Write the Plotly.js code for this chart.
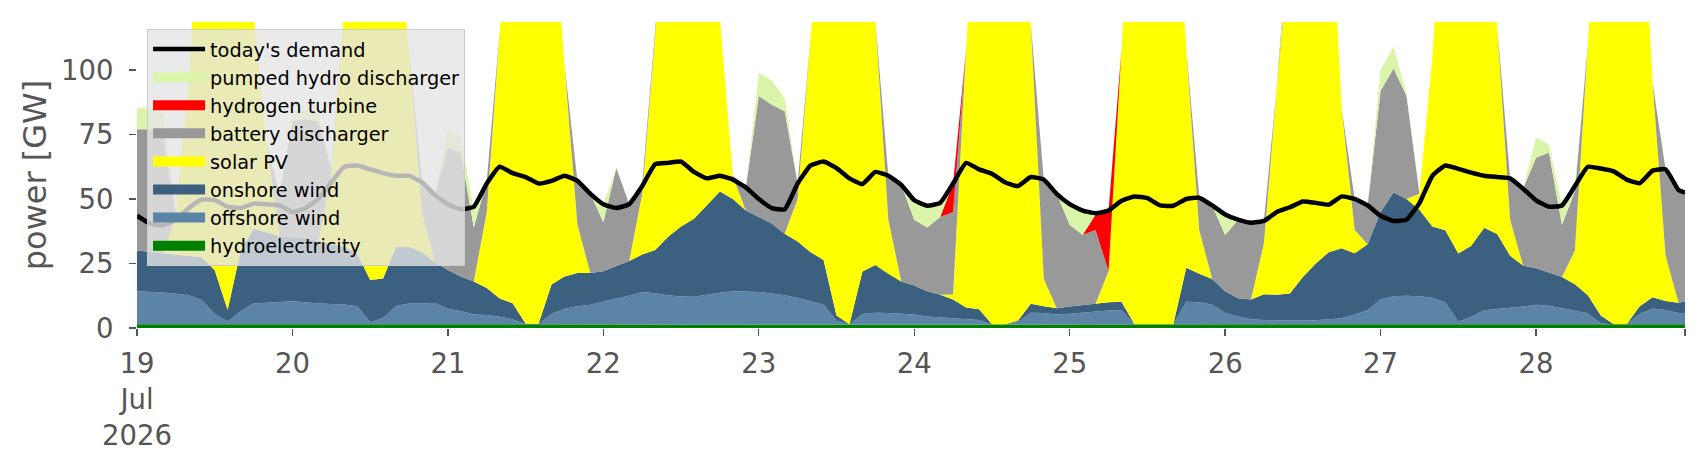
<!DOCTYPE html>
<html><head><meta charset="utf-8">
<script src="https://cdn.plot.ly/plotly-3.0.1.min.js"></script>
<style>html,body{margin:0;padding:0;background:#fff;}#chart{width:1706px;height:460px;}</style>
</head><body><div id="chart"></div>
<script>
// sample times: every 2 hours from 19 Jul 2026 00:00, plus the final hour (28 Jul 23:00)
const sampleHours = [];
for (let h = 0; h <= 238; h += 2) sampleHours.push(h);
sampleHours.push(239);
function stamp(h) {
  const d = 19 + Math.floor(h / 24), hh = h % 24;
  return '2026-07-' + String(d).padStart(2, '0') + ' ' + String(hh).padStart(2, '0') + ':00';
}
const times = sampleHours.map(stamp);

const dayTicks = ['2026-07-19','2026-07-20','2026-07-21','2026-07-22','2026-07-23','2026-07-24','2026-07-25','2026-07-26','2026-07-27','2026-07-28','2026-07-28 23:00'];
const dayTickLabels = ['19<br>Jul<br>2026','20','21','22','23','24','25','26','27','28',''];

// GW, one row per day (00,02,...,22h), last value = 28 Jul 23:00
const hydroelectricity = [
1.5,1.5,1.5,1.5,1.4,1.4,1.4,1.5,1.5,1.5,1.6,1.6,
1.6,1.5,1.5,1.5,1.4,1.4,1.4,1.4,1.5,1.5,1.5,1.5,
1.5,1.5,1.5,1.5,1.4,1.4,1.4,1.4,1.4,1.5,1.5,1.5,
1.5,1.5,1.5,1.5,1.4,1.4,1.3,1.3,1.4,1.4,1.5,1.5,
1.5,1.5,1.5,1.5,1.4,1.4,1.3,1.3,1.4,1.4,1.5,1.5,
1.5,1.5,1.5,1.5,1.4,1.4,1.3,1.3,1.3,1.4,1.5,1.5,
1.5,1.5,1.5,1.5,1.4,1.3,1.3,1.3,1.3,1.4,1.5,1.5,
1.5,1.5,1.5,1.5,1.4,1.4,1.3,1.3,1.4,1.4,1.5,1.5,
1.5,1.5,1.5,1.5,1.4,1.4,1.4,1.4,1.4,1.4,1.5,1.5,
1.5,1.5,1.5,1.5,1.4,1.3,1.3,1.3,1.4,1.4,1.5,1.5,
1.5];
const offshoreWind = [
12.7,12.5,12.3,11.8,11.3,9.5,4.0,1.0,5.0,8.0,8.2,8.5,
8.8,8.5,8.0,7.8,7.7,7.0,0.8,2.5,7.0,8.0,8.2,8.2,
6.0,5.0,3.7,3.5,3.0,2.0,0.1,0.1,4.0,6.0,6.9,7.5,
8.8,10.0,11.0,12.5,12.1,11.3,10.9,10.8,11.5,12.3,12.7,12.7,
12.5,11.9,11.2,10.1,9.0,7.7,1.5,0.1,4.0,4.5,4.3,4.0,
3.7,3.0,2.7,2.4,2.0,1.7,0.1,0.1,1.0,4.5,4.3,3.7,
4.0,4.5,5.0,5.3,5.5,0.1,0.1,0.1,0.1,8.8,8.5,7.5,
4.3,3.0,1.9,1.6,1.5,1.5,1.6,1.7,2.0,2.4,3.7,5.5,
9.5,10.8,11.0,10.8,10.3,8.5,1.0,3.0,5.5,6.0,6.2,6.8,
7.5,7.1,6.2,5.3,4.3,0.5,0.1,0.1,4.0,6.2,5.5,4.3,
4.3];
const onshoreWind = [
15.8,15.5,15.2,15.2,15.2,16.5,17.0,4.5,23.5,29.0,27.3,25.5,
24.7,25.0,24.0,23.2,22.3,20.5,16.4,15.3,23.0,22.0,19.8,15.8,
15.0,13.5,12.8,10.5,7.0,6.2,0.1,0.1,11.5,12.5,12.9,12.3,
11.7,12.5,13.5,14.5,16.7,22.7,27.1,30.2,34.5,39.2,35.8,31.3,
29.0,27.1,23.8,21.9,19.0,17.3,2.0,0.1,16.5,18.5,15.2,12.5,
11.3,9.7,8.7,7.1,4.5,4.2,0.1,0.1,0.5,3.5,2.6,2.5,
2.8,2.8,2.9,3.2,3.3,0.1,0.1,0.1,0.1,13.2,11.0,10.0,
8.4,7.0,7.6,10.0,10.0,10.5,16.9,22.0,26.0,27.1,23.8,25.5,
34.0,40.2,37.5,33.5,27.6,28.0,26.5,27.5,32.0,29.0,20.3,15.9,
14.2,12.9,12.1,10.2,7.0,3.0,0.1,0.1,3.0,4.3,3.5,4.0,
4.5];
const solarPV = [
0,0,0,15.0,69.0,147.5,182.5,203.0,155.0,83.5,35.0,0,
0,0,0,26.5,93.5,151.0,191.3,180.7,128.5,76.5,15.5,0,
0,0,0,29.5,103.5,170.3,208.3,206.0,153.0,82.0,18.7,0,
0,0,0,23.5,84.7,139.5,170.5,172.5,142.5,67.0,8.7,0,
0,0,0,16.5,83.5,153.5,195.0,203.3,163.0,94.5,21.0,0,
0,0,0,2.0,100.0,182.6,213.3,218.3,197.0,108.5,10.6,0,
0,0,0,12.0,97.7,198.3,213.3,210.0,188.3,84.5,17.0,0,
0,0,0,19.9,81.0,146.5,180.0,184.8,150.5,54.0,9.0,0,
0,0,0,6.2,65.6,152.0,186.0,188.0,161.0,80.5,14.0,0,
0,0,0,13.0,97.2,185.0,213.3,210.0,181.5,83.0,17.5,0,
0];
const batteryDischarger = [
47.0,47.5,47.0,1.0,0,0,0,0,0,0,0,16.5,
45.0,46.0,46.5,3.0,0,0,0,0,0,0,12.0,26.5,
47.5,48.0,21.0,12.0,0,0,0,0,0,0,17.0,30.7,
19.0,38.0,22.0,4.0,0,0,0,0,0,0,0.3,9.0,
47.0,46.0,47.5,6.0,0,0,0,0,0,0,17.0,37.5,
25.5,24.8,30.1,32.0,0,0,0,0,0,0,38.5,44.3,
31.7,27.2,28.6,0,0,0,0,0,0,0,13.0,28.5,
21.8,30.5,29.8,9.0,0,0,0,0,0,0,12.0,15.0,
47.0,48.1,40.0,0,0,0,0,0,0,0,16.0,29.8,
42.8,46.5,20.2,23.0,0,0,0,0,0,0,33.5,43.7,
42.0];
const hydrogenTurbine = [
0,0,0,0,0,0,0,0,0,0,0,0,
0,0,0,0,0,0,0,0,0,0,0,0,
0,0,0,0,0,0,0,0,0,0,0,0,
0,0,0,0,0,0,0,0,0,0,0,0,
0,0,0,0,0,0,0,0,0,0,0,0,
0,0,0,11.0,0,0,0,0,0,0,0,0,
0,0,6.0,23.5,0,0,0,0,0,0,0,0,
0,0,0,0,0,0,0,0,0,0,0,0,
0,0,0,0,0,0,0,0,0,0,0,0,
0,0,0,0,0,0,0,0,0,0,0,0,
0];
const pumpedHydroDischarger = [
8.5,8.0,7.0,1.0,0,0,0,0,0,0,0,1.0,
4.0,3.5,3.0,0,0,0,0,0,0,0,0,0,
7.0,6.0,7.0,0,0,0,0,0,0,0,0,0,
7.0,0,0,0,0,0,0,0,0,0,0,0,
9.0,9.5,5.0,0,0,0,0,0,0,0,0,0,
7.5,8.4,5.5,0,0,0,0,0,0,0,0,0,
8.0,9.5,0.5,0,0,0,0,0,0,0,0,0,
8.0,0,0,0,0,0,0,0,0,0,0,0,
8.0,8.4,1.0,0,0,0,0,0,0,0,0,0,
8.0,3.0,7.5,2.0,0,0,0,0,0,0,0,0,
0];
const todaysDemand = [
43.5,40.5,39.8,42.0,46.5,49.8,49.5,47.0,46.5,48.2,48.0,47.5,
45.0,46.5,50.0,56.5,62.5,63.0,61.5,60.0,59.0,59.0,56.5,51.5,
48.0,46.0,47.0,56.0,62.5,60.0,58.5,56.0,57.0,59.0,57.0,52.0,
48.0,46.5,48.0,55.0,63.5,64.0,64.5,60.5,58.0,59.0,57.5,54.5,
50.0,46.5,46.0,56.0,63.0,64.5,62.0,58.0,55.8,60.5,59.0,55.5,
49.5,47.4,48.5,56.0,64.0,61.5,59.8,56.5,55.0,58.5,57.5,52.0,
48.0,45.5,44.5,45.5,49.3,51.0,50.3,47.5,47.4,50.0,50.5,47.5,
44.0,42.0,40.8,41.5,45.0,46.8,49.0,48.5,47.8,51.0,50.0,47.5,
43.5,41.5,42.0,48.4,59.0,63.0,61.7,60.2,59.0,58.5,58.0,54.0,
49.5,47.0,47.5,55.0,62.5,61.8,60.7,57.5,56.1,61.0,61.5,53.5,
52.5];

const stackSeries = [
  {name: 'hydroelectricity', y: hydroelectricity, color: '#008000'},
  {name: 'offshore wind', y: offshoreWind, color: '#5c84a6'},
  {name: 'onshore wind', y: onshoreWind, color: '#3b6080'},
  {name: 'solar PV', y: solarPV, color: '#ffff00'},
  {name: 'battery discharger', y: batteryDischarger, color: '#999999'},
  {name: 'hydrogen turbine', y: hydrogenTurbine, color: '#ff0000'},
  {name: 'pumped hydro discharger', y: pumpedHydroDischarger, color: '#daf5aa'}
];

// stacked areas (legend entries drawn by patch-like legend items below)
const traces = stackSeries.map(s => ({
  type: 'scatter', mode: 'lines', x: times, y: s.y, name: s.name,
  stackgroup: 'supply', legendgroup: s.name, showlegend: false,
  line: {width: 0, color: s.color}, fillcolor: s.color, hoverinfo: 'skip'
}));
// legend items with wide colour patches, same order as the stack
stackSeries.forEach(s => traces.push({
  type: 'scatter', mode: 'lines', x: [null], y: [null], name: s.name,
  legendgroup: s.name, showlegend: true,
  line: {width: 10, color: s.color}, hoverinfo: 'skip'
}));
traces.push({
  type: 'scatter', mode: 'lines', x: times, y: todaysDemand, name: "today's demand",
  line: {color: '#000000', width: 4.5, shape: 'spline', smoothing: 0.4}, hoverinfo: 'skip'
});

const layout = {
  width: 1706, height: 460,
  margin: {l: 137, r: 21, t: 22, b: 132, pad: 0},
  paper_bgcolor: '#ffffff', plot_bgcolor: '#ffffff',
  font: {family: 'DejaVu Sans', color: '#555555'},
  showlegend: true,
  legend: {
    x: 0.0065, y: 0.977, xanchor: 'left', yanchor: 'top',
    bgcolor: 'rgba(229,229,229,0.8)', bordercolor: '#cccccc', borderwidth: 1,
    font: {size: 19.3, color: '#000000', family: 'DejaVu Sans'},
    traceorder: 'reversed', itemwidth: 52
  },
  xaxis: {
    type: 'date', range: [times[0], times[times.length - 1]],
    tickmode: 'array', tickvals: dayTicks, ticktext: dayTickLabels,
    ticks: 'outside', ticklen: 7, tickwidth: 1.3, tickcolor: '#555555',
    tickfont: {size: 27.5, color: '#555555'},
    showgrid: false, zeroline: false, showline: false, ticklabelstandoff: 4
  },
  yaxis: {
    range: [0, 118.6], tickmode: 'array', tickvals: [0, 25, 50, 75, 100],
    ticks: 'outside', ticklen: 7, tickwidth: 1.3, tickcolor: '#555555',
    tickfont: {size: 27.5, color: '#555555'},
    showgrid: false, zeroline: false, showline: false, ticklabelstandoff: 10,
    title: {text: 'power [GW]', font: {size: 32, color: '#555555'}, standoff: 4}
  }
};

Plotly.newPlot('chart', traces, layout, {displayModeBar: false, staticPlot: true});
</script>
</body></html>
